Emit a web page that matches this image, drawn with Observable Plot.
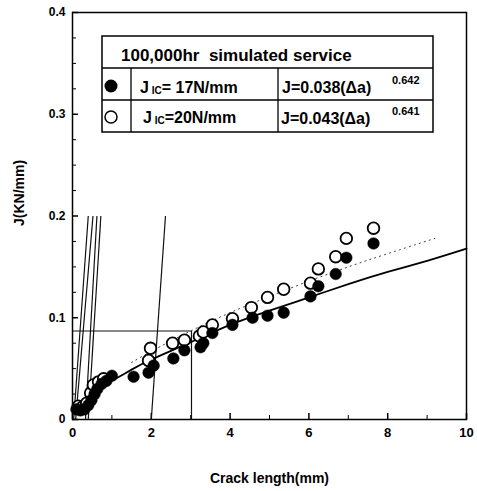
<!DOCTYPE html>
<html><head><meta charset="utf-8">
<script src="https://cdn.jsdelivr.net/npm/d3@7"></script>
<script src="https://cdn.jsdelivr.net/npm/@observablehq/plot@0.6"></script>
<style>
body{margin:0;background:#fff}
svg{font-family:"Liberation Sans",Arial,sans-serif;font-weight:bold}
</style>
</head><body><div id="chart"></div>
<script>
// Filled circles: J_IC = 17 N/mm
const filledX = [0.10,0.20,0.30,0.40,0.48,0.56,0.63,0.74,0.86,1.00,1.55,1.93,2.06,2.56,2.84,3.25,3.32,3.55,4.06,4.57,4.95,5.36,6.04,6.24,6.68,6.95,7.64];
const filledJ = [0.010,0.009,0.010,0.014,0.019,0.025,0.030,0.035,0.038,0.043,0.042,0.046,0.053,0.060,0.068,0.071,0.075,0.085,0.093,0.100,0.102,0.105,0.121,0.131,0.143,0.159,0.173];
// Open circles: J_IC = 20 N/mm
const openX = [0.15,0.25,0.36,0.46,0.53,0.66,0.79,1.93,1.98,2.54,2.84,3.22,3.32,3.55,4.06,4.54,4.95,5.36,6.04,6.24,6.68,6.95,7.64];
const openJ = [0.013,0.012,0.016,0.026,0.034,0.037,0.040,0.058,0.070,0.075,0.078,0.082,0.086,0.093,0.099,0.110,0.120,0.128,0.134,0.148,0.160,0.178,0.188];
// Fit curves
const solidFitX = [0.45,0.6,0.8,1,1.5,2,3,4,5,6,7,8,9,10];
const solidFitJ = [0.023,0.027,0.033,0.038,0.049,0.059,0.076,0.093,0.107,0.120,0.133,0.145,0.156,0.168];
const dottedFitX = [1.5,2,3,4,5,6,7,8,9.2];
const dottedFitJ = [0.056,0.067,0.087,0.105,0.121,0.136,0.150,0.163,0.178];
// Construction lines (blunting lines, offset line, limits)
const segX1 = [0.03,0.08,0.33,0.40,2.00,0.00,3.02];
const segJ1 = [0.000,0.000,0.000,0.000,0.000,0.0870,0.0000];
const segX2 = [0.40,0.52,0.62,0.72,2.36,3.02,3.02];
const segJ2 = [0.200,0.200,0.200,0.200,0.200,0.0870,0.0870];
// Ticks
const xMajor = [0,2,4,6,8,10];
const xMinor = [1,3,5,7,9];
const yMajor = [0,0.1,0.2,0.3,0.4];
const yMinor = [0.025,0.05,0.075,0.125,0.15,0.175,0.225,0.25,0.275,0.325,0.35,0.375];
const yLabels = ["0","0.1","0.2","0.3","0.4"];
const xTitle = "Crack length(mm)";
const yTitle = "J(KN/mm)";

const filled = filledX.map((x,i)=>({x, j:filledJ[i]}));
const open = openX.map((x,i)=>({x, j:openJ[i]}));
const solidFit = solidFitX.map((x,i)=>({x, j:solidFitJ[i]}));
const dottedFit = dottedFitX.map((x,i)=>({x, j:dottedFitJ[i]}));
const segs = segX1.map((x1,i)=>({x1, y1:segJ1[i], x2:segX2[i], y2:segJ2[i]}));

const plot = Plot.plot({
  width: 477, height: 491,
  marginLeft: 72, marginRight: 11, marginTop: 12, marginBottom: 72,
  style: {fontFamily: '"Liberation Sans", Arial, sans-serif', fontSize: "12px", fontWeight: "bold", color: "#000", background: "#fff", overflow: "visible"},
  x: {domain: [0,10]},
  y: {domain: [0,0.4]},
  marks: [
    Plot.frame({stroke: "#000", strokeWidth: 1.5}),
    Plot.axisX(xMajor, {tickSize: -6, tickPadding: 14, fontSize: 13, strokeWidth: 1.5, label: null}),
    Plot.axisX(xMinor, {tickSize: -4, tickFormat: () => "", label: null}),
    Plot.axisY(yMajor, {tickSize: -6, tickPadding: 13, fontSize: 12, strokeWidth: 1.5,
      tickFormat: (d) => yLabels[yMajor.indexOf(d)], label: null}),
    Plot.axisY(yMinor, {tickSize: -4, tickFormat: () => "", label: null}),
    Plot.text([xTitle], {text: d => d, frameAnchor: "bottom", dy: 63, fontSize: 14, fontWeight: "bold"}),
    Plot.text([yTitle], {text: d => d, frameAnchor: "left", dx: -53, dy: 10, rotate: -90, fontSize: 14, fontWeight: "bold"}),
    Plot.link(segs, {x1: "x1", y1: "y1", x2: "x2", y2: "y2", stroke: "#111", strokeWidth: 1.2}),
    Plot.line(dottedFit, {x: "x", y: "j", stroke: "#444", strokeWidth: 1, strokeDasharray: "1.2,4", curve: "natural"}),
    Plot.line(solidFit, {x: "x", y: "j", stroke: "#000", strokeWidth: 1.8, curve: "natural"}),
    Plot.dot(open, {x: "x", y: "j", r: 5.8, fill: "#fff", stroke: "#000", strokeWidth: 1.8}),
    Plot.dot(filled, {x: "x", y: "j", r: 5.8, fill: "#000", stroke: "#000", strokeWidth: 0.5})
  ]
});
document.getElementById("chart").appendChild(plot);

// Legend table (annotation inside the frame)
const svg = d3.select(plot);
const g = svg.append("g").attr("class","legend-box").attr("text-anchor","start");
const L = 102, R = 433, T = 36, B = 132, r1 = 68, r2 = 100, c1 = 131, c2 = 278;
g.append("rect").attr("x",L).attr("y",T).attr("width",R-L).attr("height",B-T)
  .attr("fill","#fff").attr("stroke","#000").attr("stroke-width",1.5);
[[L,r1,R,r1],[L,r2,R,r2],[c1,r1,c1,B],[c2,r1,c2,B]].forEach(([a,b,c,d]) =>
  g.append("line").attr("x1",a).attr("y1",b).attr("x2",c).attr("y2",d).attr("stroke","#000").attr("stroke-width",1.3));
g.append("text").attr("x",121).attr("y",61).attr("font-size",17).attr("font-weight","bold")
  .attr("xml:space","preserve").text("100,000hr  simulated service");
g.append("circle").attr("cx",111).attr("cy",86).attr("r",6.5).attr("fill","#000");
g.append("circle").attr("cx",111).attr("cy",117).attr("r",6).attr("fill","#fff").attr("stroke","#000").attr("stroke-width",1.5);
function jic(x, y, rest){
  const t = g.append("text").attr("x",x).attr("y",y).attr("font-size",16).attr("font-weight","bold");
  t.append("tspan").text("J");
  t.append("tspan").attr("font-size",10).attr("dy",1).text(" IC");
  t.append("tspan").attr("dy",-1).text(rest);
}
jic(140, 93, "= 17N/mm");
jic(143, 123, "=20N/mm");
function fit(x, y, main, sup){
  g.append("text").attr("x",x).attr("y",y).attr("font-size",16).attr("font-weight","bold").text(main);
  g.append("text").attr("x",392).attr("y",y-9).attr("font-size",11).attr("font-weight","bold").text(sup);
}
fit(282, 93, "J=0.038(Δa)", "0.642");
fit(281, 124, "J=0.043(Δa)", "0.641");
</script>
</body></html>
